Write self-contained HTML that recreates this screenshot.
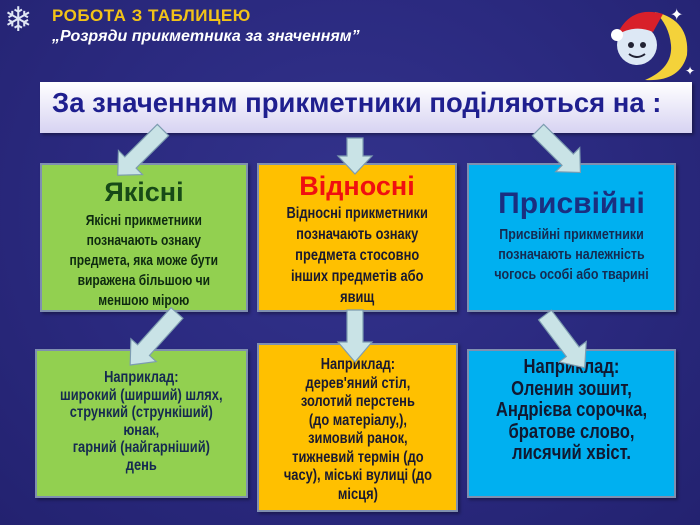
<!DOCTYPE html>
<html><head><meta charset="utf-8"><style>
body{margin:0;width:700px;height:525px;overflow:hidden;background:radial-gradient(ellipse at 50% 40%,#33338c 0%,#2b2a80 50%,#232270 100%);font-family:"Liberation Sans",sans-serif;position:relative}
.a{position:absolute}
.n{font-family:"Liberation Sans",sans-serif;font-weight:bold;text-align:center}
.sx{transform:scaleX(.83);transform-origin:center top;white-space:nowrap;width:140%;margin-left:-20%}
.box{position:absolute;border:2px solid #7f8fb0;box-sizing:border-box;box-shadow:2px 2px 3px rgba(0,0,0,.35)}
</style></head><body>
<div class="a" style="left:4px;top:2px;font-size:34px;color:#dfe6f4;line-height:36px">❄</div>
<div class="a" style="left:52px;top:6px;font-size:17px;font-weight:bold;color:#f2c318;letter-spacing:.5px">РОБОТА З ТАБЛИЦЕЮ</div>
<div class="a" style="left:52px;top:28px;font-size:16px;font-weight:bold;font-style:italic;color:#fff">„Розряди прикметника за значенням”</div>
<svg class="a" style="left:595px;top:0" width="105" height="85">
<path d="M60 12 Q95 20 92 55 Q85 82 50 80 Q78 68 76 45 Q74 25 60 12Z" fill="#f4d23a"/>
<circle cx="42" cy="45" r="20" fill="#dde8f5"/>
<path d="M22 35 Q35 5 68 14 L58 32 Q40 24 22 35Z" fill="#d8202a"/>
<circle cx="22" cy="35" r="6" fill="#fff"/>
<circle cx="36" cy="45" r="3" fill="#223"/><circle cx="48" cy="45" r="3" fill="#223"/>
<path d="M34 54 Q42 60 50 54" stroke="#223" stroke-width="2" fill="none"/>
<text x="75" y="20" fill="#fff" font-size="16">✦</text><text x="90" y="75" fill="#fff" font-size="12">✦</text>
</svg>
<div class="box" style="left:40px;top:82px;width:652px;height:51px;background:linear-gradient(#ffffff,#d7d3f2);border:none"></div>
<div class="a" style="left:52px;top:87px;white-space:nowrap;font-size:28px;font-weight:bold;color:#1f1f8f;transform:scaleX(.98);transform-origin:left">За значенням прикметники поділяються на :</div>

<div class="box n" style="left:40px;top:163px;width:208px;height:149px;background:#92d050;color:#0e2a10">
<div style="font-size:27px;color:#174a17;margin-top:12px">Якісні</div>
<div class="sx" style="font-size:14.5px;line-height:20px;margin-top:3px">Якісні прикметники<br>позначають ознаку<br>предмета, яка може бути<br>виражена більшою чи<br>меншою мірою</div></div>
<div class="box n" style="left:257px;top:163px;width:200px;height:149px;background:#ffc000;color:#1a1a30">
<div style="font-size:27px;color:#f01010;margin-top:6px">Відносні</div>
<div class="sx" style="font-size:15.5px;line-height:21px;margin-top:1px">Відносні прикметники<br>позначають ознаку<br>предмета стосовно<br>інших предметів або<br>явищ</div></div>
<div class="box n" style="left:467px;top:163px;width:209px;height:149px;background:#00b0f0;color:#152a50">
<div style="font-size:30px;color:#1a2f80;margin-top:22px">Присвійні</div>
<div class="sx" style="font-size:15px;line-height:20px;margin-top:4px">Присвійні прикметники<br>позначають належність<br>чогось особі або тварині</div></div>

<div class="box n" style="left:35px;top:349px;width:213px;height:149px;background:#92d050;color:#152a50;padding-top:18px"><div class="sx" style="font-size:15.5px;line-height:17.5px">Наприклад:<br>широкий (ширший) шлях,<br>стрункий (стрункіший)<br>юнак,<br>гарний (найгарніший)<br>день</div></div>
<div class="box n" style="left:257px;top:343px;width:201px;height:169px;background:#ffc000;color:#1a1a30;padding-top:11px"><div class="sx" style="font-size:15.5px;line-height:18.5px">Наприклад:<br>дерев'яний стіл,<br>золотий перстень<br>(до матеріалу,),<br>зимовий ранок,<br>тижневий термін (до<br>часу), міські вулиці (до<br>місця)</div></div>
<div class="box n" style="left:467px;top:349px;width:209px;height:149px;background:#00b0f0;color:#111830;padding-top:6px"><div class="sx" style="font-size:20px;line-height:21.5px">Наприклад:<br>Оленин зошит,<br>Андрієва сорочка,<br>братове слово,<br>лисячий хвіст.</div></div>

<svg class="a" style="left:0;top:0" width="700" height="525">
<g fill="#c9e3e6" stroke="#7d9cb0" stroke-width="1.2">
<polygon transform="translate(163,130) rotate(45)" points="-8,0 8,0 8,46 17,46 0,64 -17,46 -8,46"/>
<polygon transform="translate(355,138) rotate(0)" points="-8,0 8,0 8,18 17,18 0,36 -17,18 -8,18"/>
<polygon transform="translate(538,130) rotate(-45)" points="-8,0 8,0 8,42 17,42 0,60 -17,42 -8,42"/>
<polygon transform="translate(177,313) rotate(42)" points="-8,0 8,0 8,50 17,50 0,70 -17,50 -8,50"/>
<polygon transform="translate(355,310) rotate(0)" points="-8,0 8,0 8,32 17,32 0,52 -17,32 -8,32"/>
<polygon transform="translate(545,315) rotate(-37)" points="-8,0 8,0 8,46 17,46 0,66 -17,46 -8,46"/>
</g></svg>
</body></html>
